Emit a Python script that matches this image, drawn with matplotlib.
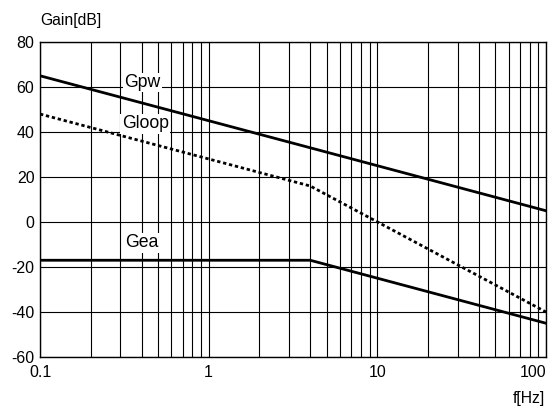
import matplotlib.pyplot as plt
import numpy as np

plt.rcParams['font.family'] = ['Liberation Sans', 'DejaVu Sans']
plt.rcParams['axes.unicode_minus'] = False

# corner points of the asymptotic Bode plots
freq = [0.1, 4, 100]
gpw = [65, 33, 5]
gloop = [48, 16, -40]
gea = [-17, -17, -45]

yticks = [-60, -40, -20, 0, 20, 40, 60, 80]
xticks = [0.1, 1, 10, 100]
xticklabels = ['0.1', '1', '10', '100']

fig = plt.figure(figsize=(5.58, 4.08), dpi=100)
ax = fig.add_axes([0.0717, 0.125, 0.9068, 0.772])

ax.plot(freq, gpw, color='black', lw=2, zorder=3)
ax.plot(freq, gloop, color='black', lw=2, ls=(0, (1.2, 1)), zorder=3)
ax.plot(freq, gea, color='black', lw=2, zorder=3)

ax.set_xscale('log')
ax.set_xlim(0.1, 100)
ax.set_ylim(-60, 80)
ax.set_yticks(yticks)
ax.set_xticks(xticks)
ax.set_xticklabels(xticklabels)
ax.minorticks_on()
ax.yaxis.set_minor_locator(plt.NullLocator())
ax.grid(True, which='both', color='black', lw=0.8)
ax.tick_params(which='both', length=0, labelsize=11.5)
ax.tick_params(axis='y', pad=4)
ax.tick_params(axis='x', pad=5.5)
ax.get_xticklabels()[-1].set_ha('right')
for s in ax.spines.values():
    s.set_linewidth(1)

box = dict(facecolor='white', edgecolor='none', pad=1)
ax.text(0.315, 62, 'Gpw', fontsize=12.7, ha='left', va='center', bbox=box, zorder=4)
ax.text(0.305, 43.6, 'Gloop', fontsize=12.7, ha='left', va='center', bbox=box, zorder=4)
ax.text(0.32, -9.3, 'Gea', fontsize=12.7, ha='left', va='center', bbox=box, zorder=4)

fig.text(40 / 558, 1 - 21 / 408, 'Gain[dB]', fontsize=11.3, ha='left', va='center')
fig.text(545 / 558, 1 - 398 / 408, 'f[Hz]', fontsize=11.3, ha='right', va='center')

fig.savefig('out.png', dpi=100)
